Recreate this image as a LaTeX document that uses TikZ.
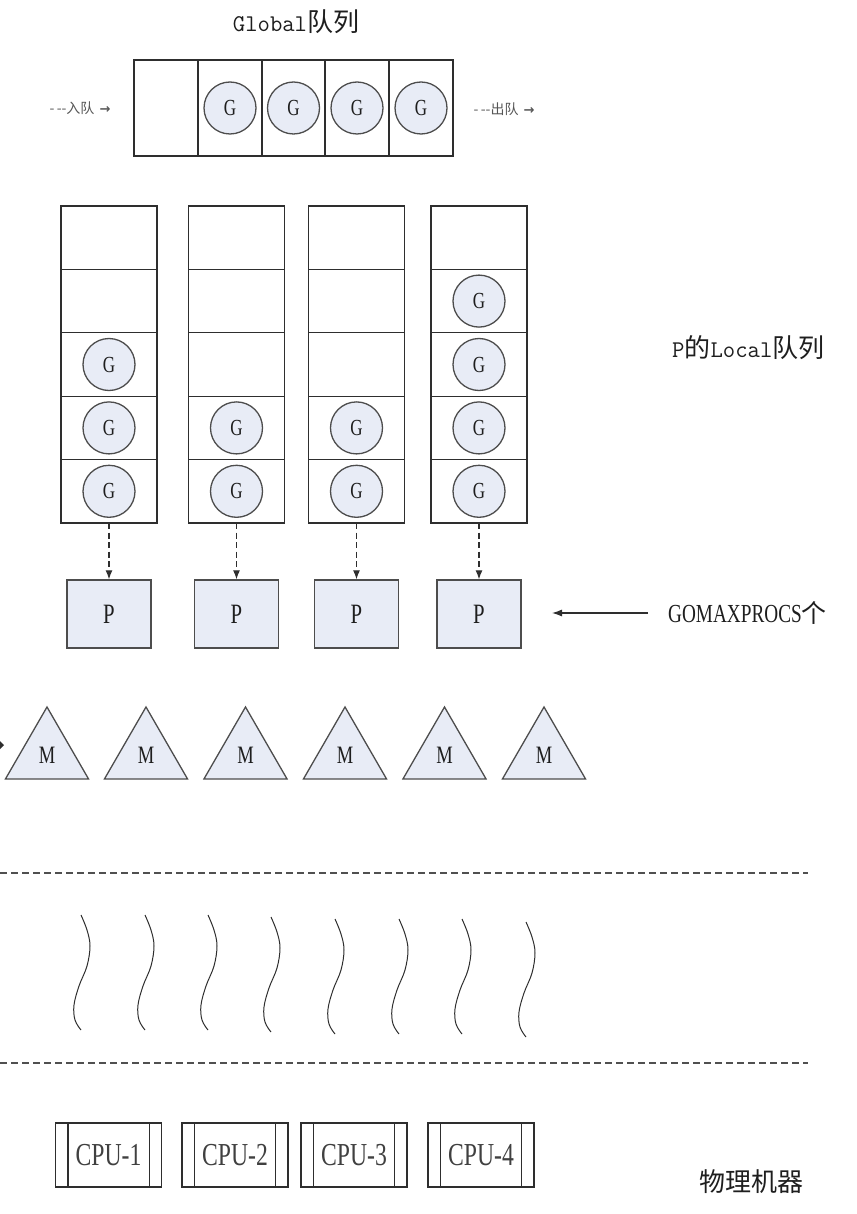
\documentclass[tikz,border=0pt]{standalone}
\usepackage{fontspec}
\setmainfont{Liberation Serif}
\newfontfamily\serifc[FakeStretch=0.74]{Liberation Serif}
\newfontfamily\cjk{Noto Sans CJK SC}
\newfontfamily\dejavu{DejaVu Sans}
\usetikzlibrary{shapes.geometric,arrows.meta}
\definecolor{boxfill}{HTML}{E8ECF6}
\definecolor{edge}{HTML}{2E2E2E}
\definecolor{ink}{HTML}{1E1E1E}
\definecolor{sepgray}{HTML}{505050}
\tikzset{
  lcell/.style={draw=edge, line width=1.35pt, minimum width=96pt, minimum height=63.4pt, inner sep=0pt, outer sep=0pt},
  gcell/.style={draw=edge, line width=1.35pt, minimum width=64pt, minimum height=96pt, inner sep=0pt, outer sep=0pt},
  gnode/.style={circle, draw=edge!85, line width=1.3pt, fill=boxfill, minimum size=52pt, inner sep=0pt, text=ink, font=\serifc\fontsize{23}{25}\selectfont},
  pbox/.style={draw=edge!85, line width=1.4pt, fill=boxfill, minimum width=84pt, minimum height=68pt, inner sep=0pt, text=ink, font=\serifc\fontsize{28}{30}\selectfont},
  mtri/.style={regular polygon, regular polygon sides=3, minimum size=96pt, draw=edge!85, line width=1.3pt, fill=boxfill, inner sep=0pt, text=ink, font=\serifc\fontsize{25}{27}\selectfont},
  cpubox/.style={draw=edge, line width=1.3pt, minimum width=106pt, minimum height=64pt, inner sep=0pt, text=ink!85, font=\serifc\fontsize{32}{34}\selectfont},
  dasharr/.style={draw=edge, line width=1.1pt, dash pattern=on 6pt off 3.5pt, -{Latex[length=9pt,width=7pt]}},
  solidarr/.style={draw=edge, line width=1.1pt, -{Latex[length=10pt,width=7pt]}},
  sepline/.style={draw=sepgray, line width=1.1pt, dash pattern=on 7pt off 4pt},
  thread/.style={draw=edge, line width=1pt},
  label/.style={inner sep=0pt, text=ink},
  qlabel/.style={inner sep=0pt, text=ink!75}
}
\begin{document}
\begin{tikzpicture}[x=1pt,y=-1pt]
\useasboundingbox (0,0) rectangle (856,1214);

% ---- Global queue ----
\node[label] (gtitle) at (296,22) {{\ttfamily\fontsize{24}{26}\selectfont Global}{\cjk\fontsize{26}{28}\selectfont 队列}};
\foreach \i/\x in {1/166,2/230,3/293.5,4/357,5/421} {
  \node[gcell] (gq\i) at (\x,108) {};
}
\foreach \i in {2,3,4,5} {
  \node[gnode] (gg\i) at (gq\i) {G};
}
\node[qlabel] (enq) at (80,108) {{\cjk\fontsize{14}{16}\selectfont -\,--入队}\hspace{5pt}{\dejavu\bfseries\fontsize{13}{15}\selectfont →}};
\node[qlabel] (deq) at (504,109) {{\cjk\fontsize{14}{16}\selectfont -\,--出队}\hspace{5pt}{\dejavu\bfseries\fontsize{13}{15}\selectfont →}};

% ---- Local queues ----
\foreach \c/\x in {1/109,2/236.5,3/356.5,4/479} {
  \foreach \r in {1,...,5} {
    \pgfmathsetmacro{\yy}{206+63.4*(\r-0.5)}
    \node[lcell] (q\c-\r) at (\x,\yy) {};
  }
}
\foreach \c/\r in {1/3,1/4,1/5,2/4,2/5,3/4,3/5,4/2,4/3,4/4,4/5} {
  \node[gnode] (lg\c-\r) at (q\c-\r) {G};
}
\node[label, anchor=west] (plocal) at (672,348) {{\ttfamily\fontsize{24}{26}\selectfont P}{\cjk\fontsize{26}{28}\selectfont 的}{\ttfamily\fontsize{24}{26}\selectfont Local}{\cjk\fontsize{26}{28}\selectfont 队列}};

% ---- P boxes ----
\foreach \c/\x in {1/109,2/236.5,3/356.5,4/479} {
  \node[pbox] (p\c) at (\x,614) {P};
  \draw[dasharr] (q\c-5.south) -- (p\c.north);
}
\node[label, anchor=west] (gomax) at (668,613) {{\serifc\fontsize{26}{28}\selectfont GOMAXPROCS}{\cjk\fontsize{25}{28}\selectfont 个}};
\coordinate (gaS) at (648,613);
\coordinate (gaE) at (552,613);
\draw[solidarr] (gaS) -- (gaE);

% ---- M triangles ----
\foreach \i/\x in {1/47,2/146,3/245.5,4/345,5/444.5,6/544} {
  \node[mtri] (m\i) at (\x,755) {M};
}
\fill[edge] (0,741) -- (4,745) -- (0,749) -- cycle;

% ---- separators ----
\coordinate (s1a) at (0,873);
\coordinate (s1b) at (808,873);
\coordinate (s2a) at (0,1063);
\coordinate (s2b) at (808,1063);
\draw[sepline] (s1a) -- (s1b);
\draw[sepline] (s2a) -- (s2b);

% ---- kernel threads ----
\foreach \x/\dy in {81/0,145/0,208/0,271/2,335/4,399/4,462/4,526/7} {
  \begin{scope}[shift={(\x,\dy)}]
    \draw[thread] plot[smooth, tension=0.6] coordinates {(0,915) (6,930) (9,946) (6,966) (-2,986) (-7,1005) (-6,1020) (0,1030)};
  \end{scope}
}

% ---- CPUs ----
\foreach \i/\x in {1/108.5,2/235,3/354,4/481} {
  \node[cpubox] (cpu\i) at (\x,1155) {CPU-\i};
  \draw[draw=edge, line width=1.3pt] ([xshift=13pt]cpu\i.north west) -- ([xshift=13pt]cpu\i.south west);
  \draw[draw=edge, line width=1.3pt] ([xshift=-13pt]cpu\i.north east) -- ([xshift=-13pt]cpu\i.south east);
}
\node[label, anchor=west] (phys) at (699,1182) {{\cjk\fontsize{26}{28}\selectfont 物理机器}};
\end{tikzpicture}
\end{document}
